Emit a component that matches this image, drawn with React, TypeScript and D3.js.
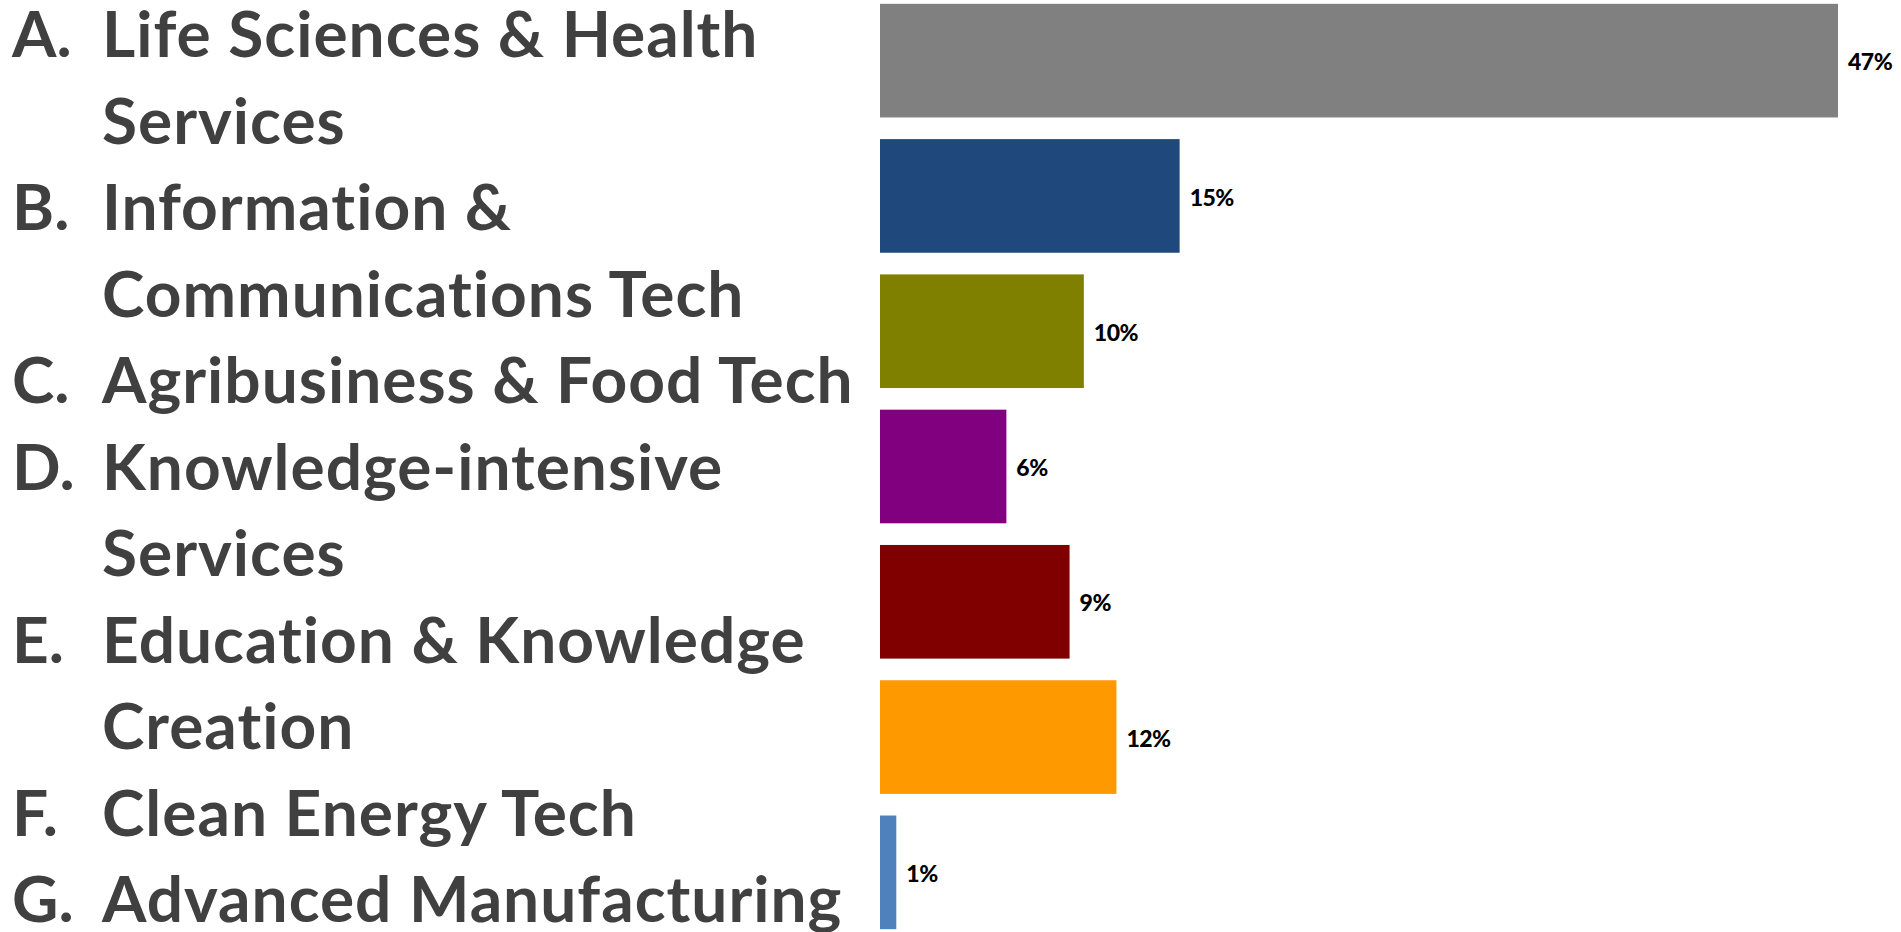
import { useEffect, useRef } from 'react';
import * as d3 from 'd3';

// Sector shares (%); labels show the rounded value
const letters = ['A.', 'B.', 'C.', 'D.', 'E.', 'F.', 'G.'];
const sectorLines = [
  ['Life Sciences & Health', 'Services'],
  ['Information &', 'Communications Tech'],
  ['Agribusiness & Food Tech'],
  ['Knowledge-intensive', 'Services'],
  ['Education & Knowledge', 'Creation'],
  ['Clean Energy Tech'],
  ['Advanced Manufacturing'],
];
const shares = [47, 14.7, 10, 6.2, 9.3, 11.6, 0.8];
const barColors = ['#808080', '#1f497d', '#7f7f00', '#800080', '#800000', '#ff9900', '#4f81bd'];

const W = 1901;
const H = 932;

export default function App() {
  const svgRef = useRef<SVGSVGElement | null>(null);

  useEffect(() => {
    if (!svgRef.current) return;
    const svg = d3.select(svgRef.current);
    svg.selectAll('*').remove();

    const font = "'Lato', 'Open Sans', sans-serif";

    // bars
    const y = d3.scaleBand<number>()
      .domain(d3.range(shares.length))
      .range([-7, 940])
      .paddingInner(0.16)
      .paddingOuter(0.08);

    const x = d3.scaleLinear().domain([0, 47]).range([880, 1838]);
    const fmt = d3.format('.0f');

    const g = svg.append('g');
    g.selectAll('rect')
      .data(shares)
      .join('rect')
      .attr('x', x(0))
      .attr('y', (_, i) => y(i)!)
      .attr('width', d => x(d) - x(0))
      .attr('height', y.bandwidth())
      .attr('fill', (_, i) => barColors[i]);

    g.selectAll('text.val')
      .data(shares)
      .join('text')
      .attr('class', 'val')
      .attr('x', d => x(d) + 10)
      .attr('y', (_, i) => y(i)! + y.bandwidth() / 2)
      .attr('dy', '0.42em')
      .attr('fill', '#000')
      .attr('font-family', font)
      .attr('font-weight', 900)
      .attr('font-size', '23px')
      .attr('letter-spacing', '-0.5px')
      .text(d => fmt(d) + '%');

    // category list, laid out as a text box on the left
    const rows: { letter: string; text: string }[] = [];
    sectorLines.forEach((lines, i) => {
      lines.forEach((t, j) => rows.push({ letter: j === 0 ? letters[i] : '', text: t }));
    });
    const line = d3.scaleLinear().domain([0, 1]).range([57.3, 143.8]);

    const list = svg.append('g')
      .attr('font-family', font)
      .attr('font-weight', 700)
      .attr('font-size', '64px')
      .attr('fill', '#404040');

    list.selectAll('text.letter')
      .data(rows)
      .join('text')
      .attr('class', 'letter')
      .attr('x', 12)
      .attr('y', (_, k) => line(k))
      .text(d => d.letter);

    list.selectAll('text.name')
      .data(rows)
      .join('text')
      .attr('class', 'name')
      .attr('x', 102)
      .attr('y', (_, k) => line(k))
      .attr('letter-spacing', '1px')
      .text(d => d.text);
  }, []);

  return (
    <svg
      ref={svgRef}
      width={W}
      height={H}
      style={{ position: 'absolute', left: 0, top: 0, background: '#fff' }}
    />
  );
}
